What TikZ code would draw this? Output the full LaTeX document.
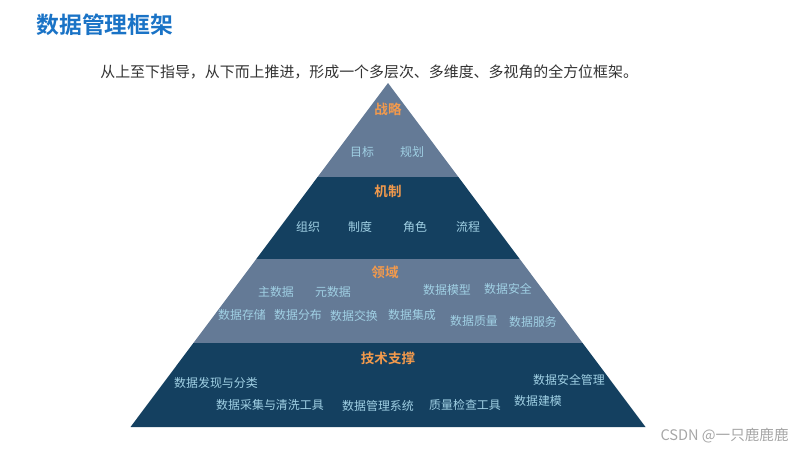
\documentclass[tikz,border=0pt]{standalone}
\usepackage{fontspec}
\setmainfont{Noto Sans CJK SC}[BoldFont={* Bold}]
\usepackage{xcolor}
\usetikzlibrary{positioning}
\definecolor{lightlayer}{RGB}{100,122,150}
\definecolor{darklayer}{RGB}{20,64,96}
\definecolor{layertitle}{RGB}{243,154,76}
\definecolor{itemtext}{RGB}{160,208,228}
\definecolor{headblue}{RGB}{26,115,198}

\begin{document}
\begin{tikzpicture}[x=0.02cm,y=-0.02cm,every node/.style={inner sep=0pt,align=center},
  ttl/.style={font=\fontsize{7.7}{9}\selectfont\bfseries,text=layertitle},
  itm/.style={font=\fontsize{6.8}{8}\selectfont,text=itemtext}]
\useasboundingbox (0,0) rectangle (800,450);
% pyramid layers
\fill[lightlayer] (388,83) -- (458.4,177) -- (317.6,177) -- cycle;
\fill[darklayer] (317.6,177) -- (458.4,177) -- (519.7,259) -- (256.3,259) -- cycle;
\fill[lightlayer] (256.3,259) -- (519.7,259) -- (582.6,343) -- (193.4,343) -- cycle;
\fill[darklayer] (193.4,343) -- (582.6,343) -- (645.5,427) -- (130.5,427) -- cycle;
% heading
\node[anchor=west,font=\fontsize{13}{14}\selectfont\bfseries,text=headblue] (head) at (36,25) {数据管理框架};
\node[anchor=west,font=\fontsize{8.5}{10}\selectfont,text=black!80] (sub) at (100,72) {从上至下指导，从下而上推进，形成一个多层次、多维度、多视角的全方位框架。};
% strategy
\node[ttl] (strat) at (388,109) {战略};
\node[itm] (goal) at (362,152) {目标};
\node[itm] (plan) at (412,152) {规划};
% mechanism
\node[ttl] (mech) at (388,191) {机制};
\node[itm] (org) at (308,227) {组织};
\node[itm] (rule) at (360,227) {制度};
\node[itm] (role) at (415,227) {角色};
\node[itm] (flow) at (468,227) {流程};
% domain
\node[ttl] (dom) at (385,272) {领域};
\node[itm] (master) at (276,292) {主数据};
\node[itm] (meta) at (333,292) {元数据};
\node[itm] (model) at (447,290) {数据模型};
\node[itm] (sec) at (508,289) {数据安全};
\node[itm] (store) at (242,315) {数据存储};
\node[itm] (dist) at (298,315) {数据分布};
\node[itm] (xchg) at (354,316) {数据交换};
\node[itm] (integ) at (412,315) {数据集成};
\node[itm] (qual) at (474,321) {数据质量};
\node[itm] (serv) at (533,322) {数据服务};
% technology
\node[ttl] (tech) at (388,358) {技术支撑};
\node[itm] (disc) at (216,383) {数据发现与分类};
\node[itm] (coll) at (270,405) {数据采集与清洗工具};
\node[itm] (dms) at (378,406) {数据管理系统};
\node[itm] (qtool) at (465,405) {质量检查工具};
\node[itm] (dmod) at (538,401) {数据建模};
\node[itm] (smgmt) at (569,380) {数据安全管理};
% watermark
\node[anchor=east,font=\fontsize{8.3}{9}\selectfont,text=black!35] (mark) at (789,436) {CSDN @一只鹿鹿鹿};
\end{tikzpicture}
\end{document}
